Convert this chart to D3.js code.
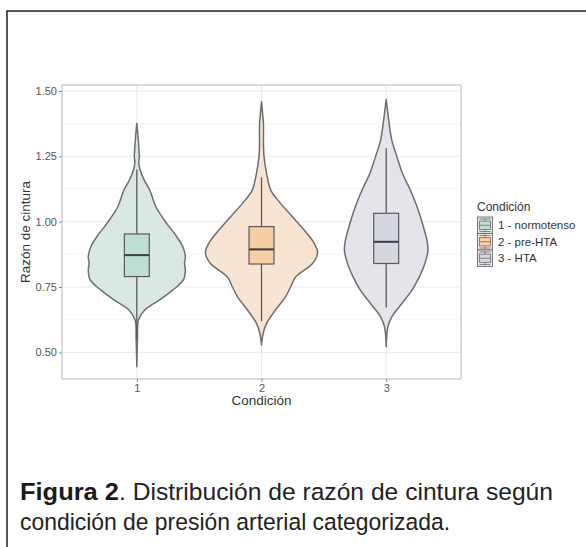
<!DOCTYPE html>
<html><head><meta charset="utf-8">
<script src="https://cdn.jsdelivr.net/npm/d3@7"></script>
<style>body{margin:0;background:#fff}svg{display:block}</style>
</head><body>
<svg id="c" width="586" height="547"></svg>
<script>
// ---------------- data ----------------
const categories = ["1", "2", "3"];
const legendLabels = ["1 - normotenso", "2 - pre-HTA", "3 - HTA"];
const yTicks = [0.50, 0.75, 1.00, 1.25, 1.50];
const yMinor = [0.625, 0.875, 1.125, 1.375];
// violin density profiles: [value, relative density]
const density1 = [[1.376,0],[1.33,0.02],[1.27,0.04],[1.25,0.045],[1.225,0.035],[1.198,0.06],[1.16,0.13],[1.121,0.23],[1.057,0.34],[0.994,0.53],[0.955,0.67],[0.904,0.82],[0.866,0.865],[0.84,0.85],[0.815,0.865],[0.777,0.83],[0.738,0.64],[0.70,0.40],[0.662,0.14],[0.624,0.03],[0.55,0.012],[0.445,0]];
const density2 = [[1.459,0],[1.40,0.025],[1.376,0.035],[1.30,0.035],[1.249,0.045],[1.185,0.09],[1.121,0.165],[1.07,0.34],[1.019,0.55],[0.968,0.76],[0.917,0.94],[0.881,1.0],[0.84,0.91],[0.789,0.61],[0.751,0.52],[0.713,0.43],[0.662,0.25],[0.611,0.09],[0.573,0.03],[0.528,0]];
const density3 = [[1.468,0],[1.376,0.053],[1.312,0.10],[1.249,0.19],[1.185,0.29],[1.121,0.43],[1.057,0.55],[0.994,0.645],[0.93,0.725],[0.891,0.745],[0.84,0.69],[0.789,0.59],[0.738,0.46],[0.687,0.28],[0.636,0.10],[0.598,0.03],[0.521,0]];
// box stats: [lowerWhisker, q1, median, q3, upperWhisker]
const box1 = [0.55, 0.790, 0.872, 0.953, 1.20];
const box2 = [0.62, 0.838, 0.894, 0.981, 1.17];
const box3 = [0.672, 0.840, 0.923, 1.032, 1.281];
const violinFill = ["#d9e8e1", "#f8e4d2", "#e4e4ea"];
const boxFill = ["#c0dfd3", "#f7cea6", "#d6d8e1"];
const captionBold = "Figura 2";
const captionLine1 = ". Distribución de razón de cintura según";
const captionLine2 = "condición de presión arterial categorizada.";

// ---------------- layout ----------------
const svg = d3.select("#c");
const P = {l: 62, r: 461, t: 85, b: 379};
const FONT = "'Liberation Sans', Arial, Helvetica, sans-serif";

const x = d3.scalePoint().domain(categories).range([P.l, P.r]).padding(0.6);
const y = d3.scaleLinear().domain([0.398, 1.523]).range([P.b, P.t]);
const step = x.step();
const w = d3.scaleLinear().domain([0, 1]).range([0, 0.45 * step]);
const boxW = 0.2 * step;

// outer frame
const fp = d3.path(); fp.moveTo(7,547); fp.lineTo(7,11); fp.lineTo(586,11);
svg.append("path").attr("d", fp.toString()).attr("fill","none").attr("stroke","#222").attr("stroke-width",1.5);

// grid
const g = svg.append("g");
g.selectAll(".mn").data(yMinor).join("line")
  .attr("x1",P.l).attr("x2",P.r).attr("y1",d=>y(d)).attr("y2",d=>y(d))
  .attr("stroke","#f3f3f3").attr("stroke-width",0.8);
g.selectAll(".mj").data(yTicks).join("line")
  .attr("x1",P.l).attr("x2",P.r).attr("y1",d=>y(d)).attr("y2",d=>y(d))
  .attr("stroke","#eaeaea").attr("stroke-width",1);
g.selectAll(".vx").data(categories).join("line")
  .attr("x1",d=>x(d)).attr("x2",d=>x(d)).attr("y1",P.t).attr("y2",P.b)
  .attr("stroke","#eaeaea").attr("stroke-width",1);

// violins
const densities = [density1, density2, density3];
const boxes = [box1, box2, box3];
densities.forEach((dens, i) => {
  const cx = x(categories[i]);
  const right = dens.map(d => [cx + w(d[1]), y(d[0])]);
  const left = dens.slice().reverse().map(d => [cx - w(d[1]), y(d[0])]);
  const line = d3.line().curve(d3.curveCatmullRom.alpha(0.5));
  const dstr = line(right) + "L" + line(left).slice(1) + "Z";
  svg.append("path").attr("d", dstr)
    .attr("fill", violinFill[i]).attr("stroke", "#6e6e6e").attr("stroke-width", 1.5)
    .attr("stroke-linejoin","round");
});

// boxplots
boxes.forEach((b, i) => {
  const cx = x(categories[i]);
  const gg = svg.append("g").attr("stroke", "#5a5a5a");
  gg.append("line").attr("x1",cx).attr("x2",cx).attr("y1",y(b[4])).attr("y2",y(b[3])).attr("stroke-width",1.3);
  gg.append("line").attr("x1",cx).attr("x2",cx).attr("y1",y(b[1])).attr("y2",y(b[0])).attr("stroke-width",1.3);
  gg.append("rect").attr("x",cx-boxW/2).attr("width",boxW)
    .attr("y",y(b[3])).attr("height",y(b[1])-y(b[3]))
    .attr("fill",boxFill[i]).attr("stroke-width",1.2);
  gg.append("line").attr("x1",cx-boxW/2).attr("x2",cx+boxW/2).attr("y1",y(b[2])).attr("y2",y(b[2]))
    .attr("stroke","#3c3c3c").attr("stroke-width",2);
});

// panel border
svg.append("rect").attr("x",P.l).attr("y",P.t).attr("width",P.r-P.l).attr("height",P.b-P.t)
  .attr("fill","none").attr("stroke","#bdbdbd").attr("stroke-width",1.1);

// axes
const yAxis = d3.axisLeft(y).tickValues(yTicks).tickFormat(d3.format(".2f")).tickSize(3).tickPadding(2);
const ya = svg.append("g").attr("transform",`translate(${P.l},0)`).call(yAxis);
ya.select(".domain").remove();
ya.selectAll("line").attr("stroke","#8a8a8a");
ya.selectAll("text").attr("fill","#555").attr("font-family",FONT).attr("font-size",11);

const xAxis = d3.axisBottom(x).tickSize(3).tickPadding(2);
const xa = svg.append("g").attr("transform",`translate(0,${P.b})`).call(xAxis);
xa.select(".domain").remove();
xa.selectAll("line").attr("stroke","#8a8a8a");
xa.selectAll("text").attr("fill","#555").attr("font-family",FONT).attr("font-size",11);

// axis titles
svg.append("text").attr("x",(P.l+P.r)/2).attr("y",405).attr("text-anchor","middle")
  .attr("font-family",FONT).attr("font-size",13.5).attr("fill","#333").text("Condición");
svg.append("text").attr("transform",`translate(30,${(P.t+P.b)/2}) rotate(-90)`).attr("text-anchor","middle")
  .attr("font-family",FONT).attr("font-size",13.5).attr("fill","#333").text("Razón de cintura");

// legend
const L = {x: 477, y: 211};
svg.append("text").attr("x",L.x).attr("y",L.y).attr("font-family",FONT).attr("font-size",12).attr("fill","#333").text("Condición");
legendLabels.forEach((lab, i) => {
  const kh = 16.5, kw = 15;
  const ky = L.y + 6 + i * kh;
  const kx = L.x + 0.5;
  const lg = svg.append("g");
  lg.append("rect").attr("x",kx).attr("y",ky).attr("width",kw).attr("height",kh)
    .attr("fill",violinFill[i]).attr("stroke","#6e6e6e").attr("stroke-width",0.9);
  lg.append("line").attr("x1",kx+kw/2).attr("x2",kx+kw/2).attr("y1",ky+1).attr("y2",ky+kh-1).attr("stroke","#6e6e6e").attr("stroke-width",0.8);
  lg.append("rect").attr("x",kx+2).attr("y",ky+kh*0.25).attr("width",kw-4).attr("height",kh*0.5)
    .attr("fill",boxFill[i]).attr("stroke","#6e6e6e").attr("stroke-width",0.8);
  [0.12, 0.5, 0.88].forEach(f => lg.append("line").attr("x1",kx+2).attr("x2",kx+kw-2)
    .attr("y1",ky+kh*f).attr("y2",ky+kh*f).attr("stroke","#6e6e6e").attr("stroke-width",0.8));
  svg.append("text").attr("x",L.x+21).attr("y",ky+kh/2+4).attr("font-family",FONT).attr("font-size",11.5)
    .attr("fill","#333").text(lab);
});

// caption
const capX = 20;
const cb = svg.append("text").attr("x",capX).attr("y",500).attr("font-family",FONT).attr("font-size",24.5)
  .attr("font-weight","bold").attr("fill","#1a1a1a")
  .attr("textLength",99).attr("lengthAdjust","spacingAndGlyphs").text(captionBold);
svg.append("text").attr("x",capX+99).attr("y",500).attr("font-family",FONT).attr("font-size",24.5).attr("fill","#222")
  .attr("textLength",434).attr("lengthAdjust","spacingAndGlyphs").text(captionLine1);
svg.append("text").attr("x",capX).attr("y",530).attr("font-family",FONT).attr("font-size",24.5).attr("fill","#222")
  .attr("textLength",430).attr("lengthAdjust","spacingAndGlyphs").text(captionLine2);
</script>
</body></html>
